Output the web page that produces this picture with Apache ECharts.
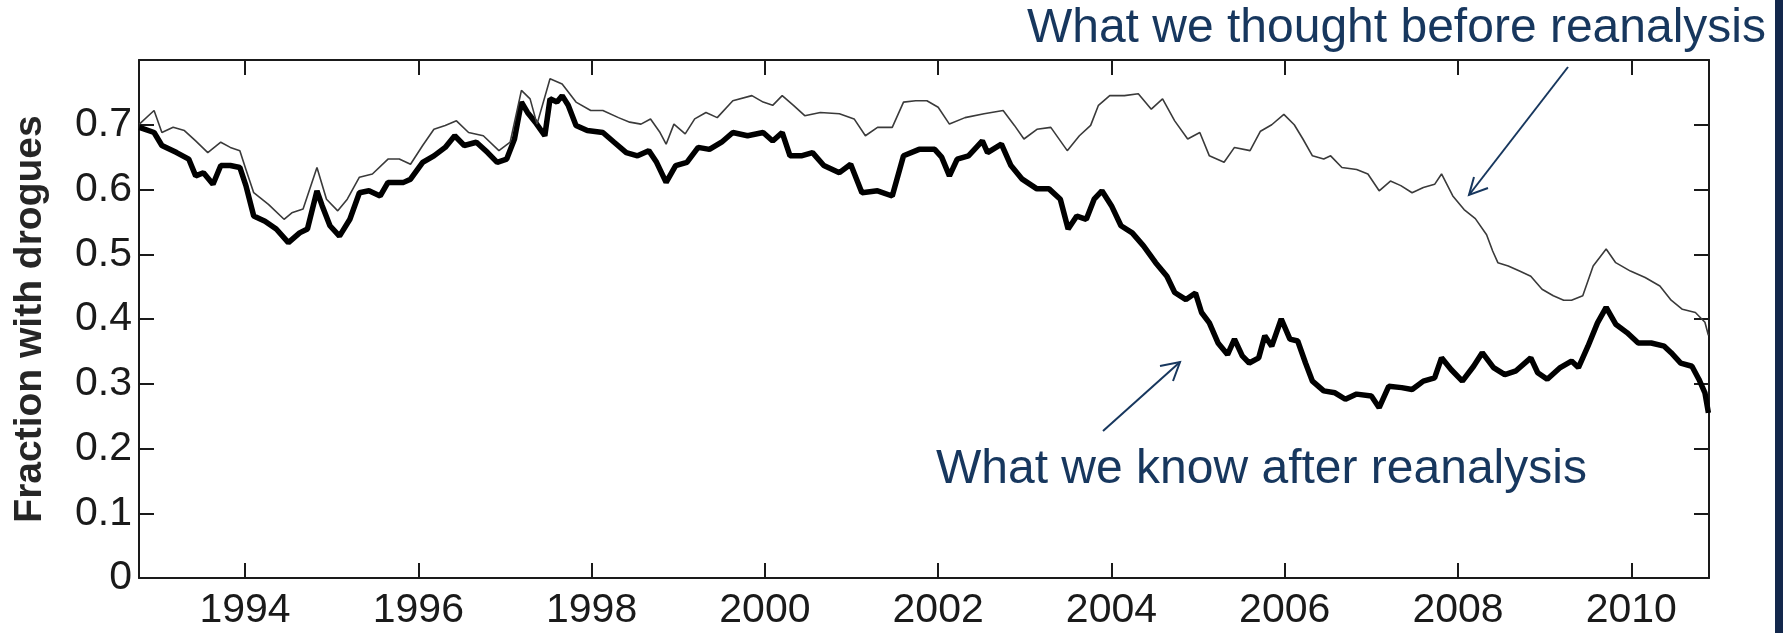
<!DOCTYPE html>
<html>
<head>
<meta charset="utf-8">
<script src="https://cdn.jsdelivr.net/npm/echarts@6/dist/echarts.min.js"></script>
<style>
html,body{margin:0;padding:0;background:#ffffff;}
#chart{width:1783px;height:633px;}
</style>
</head>
<body>
<div id="chart"></div>
<script>
// ---- Data ----
const xTickYears = [1994, 1996, 1998, 2000, 2002, 2004, 2006, 2008, 2010];
const yTickValues = [0, 0.1, 0.2, 0.3, 0.4, 0.5, 0.6, 0.7];
const yAxisTitle = 'Fraction with drogues';
const noteBefore = 'What we thought before reanalysis';
const noteAfter = 'What we know after reanalysis';

// [year, fraction] — bold curve: after reanalysis
const afterReanalysis = [
  [1992.78,0.696],[1992.95,0.688],[1993.04,0.668],[1993.21,0.657],[1993.35,0.647],[1993.43,0.621],
  [1993.52,0.626],[1993.63,0.608],[1993.72,0.637],[1993.83,0.637],[1993.94,0.634],[1994.01,0.606],
  [1994.10,0.559],[1994.23,0.551],[1994.36,0.539],[1994.50,0.518],[1994.63,0.533],[1994.72,0.539],
  [1994.83,0.598],[1994.89,0.575],[1994.98,0.544],[1995.09,0.528],[1995.21,0.554],[1995.32,0.595],
  [1995.43,0.598],[1995.56,0.590],[1995.65,0.611],[1995.83,0.611],[1995.91,0.616],[1996.05,0.642],
  [1996.18,0.652],[1996.31,0.665],[1996.42,0.683],[1996.53,0.668],[1996.67,0.673],[1996.80,0.657],
  [1996.91,0.642],[1997.02,0.647],[1997.11,0.678],[1997.19,0.735],[1997.26,0.719],[1997.35,0.704],
  [1997.46,0.683],[1997.52,0.740],[1997.60,0.735],[1997.66,0.745],[1997.73,0.730],[1997.82,0.699],
  [1997.95,0.691],[1998.13,0.688],[1998.26,0.673],[1998.40,0.657],[1998.53,0.652],[1998.66,0.660],
  [1998.75,0.642],[1998.86,0.611],[1998.97,0.637],[1999.10,0.642],[1999.23,0.665],[1999.36,0.662],
  [1999.50,0.673],[1999.63,0.688],[1999.80,0.683],[1999.98,0.688],[2000.09,0.675],[2000.20,0.688],
  [2000.29,0.652],[2000.42,0.652],[2000.55,0.657],[2000.68,0.637],[2000.86,0.626],[2000.99,0.639],
  [2001.12,0.595],[2001.30,0.598],[2001.47,0.590],[2001.60,0.652],[2001.78,0.662],[2001.96,0.662],
  [2002.04,0.650],[2002.13,0.621],[2002.22,0.647],[2002.35,0.652],[2002.51,0.675],[2002.57,0.657],
  [2002.73,0.670],[2002.84,0.637],[2002.97,0.616],[2003.14,0.601],[2003.28,0.601],[2003.41,0.585],
  [2003.50,0.539],[2003.60,0.559],[2003.71,0.554],[2003.80,0.585],[2003.89,0.598],[2004.00,0.575],
  [2004.11,0.544],[2004.24,0.533],[2004.37,0.513],[2004.51,0.487],[2004.64,0.466],[2004.73,0.441],
  [2004.86,0.430],[2004.97,0.440],[2005.04,0.410],[2005.13,0.394],[2005.23,0.363],[2005.34,0.345],
  [2005.42,0.369],[2005.51,0.343],[2005.59,0.332],[2005.70,0.340],[2005.77,0.374],[2005.85,0.358],
  [2005.96,0.400],[2006.06,0.369],[2006.15,0.366],[2006.24,0.332],[2006.32,0.304],[2006.45,0.289],
  [2006.58,0.286],[2006.70,0.276],[2006.83,0.284],[2007.00,0.281],[2007.09,0.263],[2007.20,0.296],
  [2007.35,0.294],[2007.47,0.291],[2007.60,0.304],[2007.73,0.309],[2007.81,0.340],[2007.92,0.322],
  [2008.05,0.304],[2008.18,0.327],[2008.28,0.348],[2008.41,0.325],[2008.54,0.314],[2008.67,0.320],
  [2008.84,0.340],[2008.92,0.317],[2009.03,0.307],[2009.18,0.325],[2009.31,0.335],[2009.39,0.325],
  [2009.50,0.358],[2009.61,0.394],[2009.71,0.418],[2009.82,0.392],[2009.95,0.379],[2010.08,0.363],
  [2010.23,0.363],[2010.38,0.358],[2010.46,0.348],[2010.57,0.332],[2010.70,0.327],[2010.78,0.307],
  [2010.85,0.286],[2010.89,0.255]
];

// [year, fraction] — thin curve: before reanalysis
const beforeReanalysis = [
  [1992.78,0.701],[1992.95,0.722],[1993.04,0.688],[1993.17,0.696],[1993.30,0.691],[1993.43,0.675],
  [1993.57,0.657],[1993.72,0.673],[1993.83,0.665],[1993.94,0.660],[1994.01,0.631],[1994.10,0.595],
  [1994.27,0.577],[1994.45,0.554],[1994.54,0.564],[1994.67,0.570],[1994.83,0.634],[1994.94,0.585],
  [1995.07,0.567],[1995.18,0.585],[1995.32,0.619],[1995.47,0.624],[1995.65,0.647],[1995.78,0.647],
  [1995.91,0.639],[1996.05,0.668],[1996.18,0.693],[1996.31,0.699],[1996.44,0.706],[1996.58,0.688],
  [1996.75,0.683],[1996.93,0.660],[1997.06,0.673],[1997.19,0.753],[1997.29,0.740],[1997.37,0.701],
  [1997.52,0.771],[1997.66,0.763],[1997.82,0.735],[1997.99,0.722],[1998.13,0.722],[1998.31,0.711],
  [1998.44,0.704],[1998.57,0.701],[1998.68,0.709],[1998.79,0.688],[1998.86,0.670],[1998.95,0.701],
  [1999.08,0.686],[1999.19,0.709],[1999.32,0.719],[1999.45,0.711],[1999.63,0.737],[1999.85,0.745],
  [1999.98,0.735],[2000.09,0.730],[2000.20,0.745],[2000.33,0.730],[2000.46,0.714],[2000.64,0.719],
  [2000.86,0.717],[2001.03,0.709],[2001.16,0.683],[2001.30,0.696],[2001.47,0.696],[2001.60,0.735],
  [2001.74,0.737],[2001.87,0.737],[2002.00,0.727],[2002.13,0.701],[2002.31,0.711],[2002.53,0.717],
  [2002.75,0.722],[2002.88,0.699],[2002.99,0.678],[2003.14,0.693],[2003.30,0.696],[2003.49,0.660],
  [2003.63,0.683],[2003.76,0.699],[2003.85,0.730],[2003.98,0.745],[2004.15,0.745],[2004.31,0.748],
  [2004.46,0.724],[2004.59,0.740],[2004.73,0.706],[2004.88,0.678],[2005.02,0.688],[2005.13,0.652],
  [2005.30,0.642],[2005.42,0.665],[2005.60,0.660],[2005.72,0.690],[2005.85,0.700],[2005.99,0.716],
  [2006.11,0.700],[2006.21,0.678],[2006.32,0.652],[2006.45,0.647],[2006.53,0.652],[2006.66,0.634],
  [2006.83,0.631],[2006.96,0.624],[2007.09,0.598],[2007.22,0.613],[2007.34,0.606],[2007.47,0.595],
  [2007.60,0.603],[2007.73,0.608],[2007.81,0.624],[2007.94,0.590],[2008.07,0.569],[2008.20,0.555],
  [2008.33,0.530],[2008.40,0.505],[2008.46,0.487],[2008.58,0.482],[2008.71,0.474],[2008.84,0.466],
  [2008.97,0.446],[2009.10,0.436],[2009.22,0.429],[2009.31,0.429],[2009.44,0.436],[2009.56,0.482],
  [2009.71,0.508],[2009.82,0.487],[2009.99,0.474],[2010.16,0.464],[2010.33,0.451],[2010.46,0.429],
  [2010.59,0.415],[2010.74,0.410],[2010.85,0.395],[2010.89,0.375]
];

// ---- Chart ----
const FONT = '"Liberation Sans", Arial, Helvetica, sans-serif';
const INK = '#1a1a1a';
const NAVY = '#17375e';
const X_MIN = 1992.776, X_MAX = 2010.897;
const Y_MIN = 0, Y_MAX = 0.8;

const chart = echarts.init(document.getElementById('chart'), null, {renderer: 'canvas'});

function xAxisDef(pos, showLabels) {
  return {
    type: 'value', position: pos, min: X_MIN, max: X_MAX,
    axisLine: {show: true, onZero: false, lineStyle: {color: INK, width: 2}},
    axisTick: {show: true, inside: true, length: 15, customValues: xTickYears,
               lineStyle: {color: INK, width: 2}},
    axisLabel: {show: showLabels, customValues: xTickYears, margin: 12,
                fontSize: 41, fontFamily: FONT, color: INK,
                formatter: v => String(Math.round(v))},
    splitLine: {show: false}
  };
}
function yAxisDef(pos, showLabels) {
  const d = {
    type: 'value', position: pos, min: Y_MIN, max: Y_MAX,
    axisLine: {show: true, onZero: false, lineStyle: {color: INK, width: 2}},
    axisTick: {show: true, inside: true, length: 15, customValues: yTickValues,
               lineStyle: {color: INK, width: 2}},
    axisLabel: {show: showLabels, customValues: yTickValues, margin: 7,
                fontSize: 41, fontFamily: FONT, color: INK,
                formatter: v => (v === 0 ? '0' : (Math.round(v * 10) / 10).toString())},
    splitLine: {show: false}
  };
  if (showLabels) {
    d.name = yAxisTitle;
    d.nameLocation = 'middle';
    d.nameRotate = 90;
    d.nameGap = 89;
    d.nameTextStyle = {fontSize: 39, fontWeight: 'bold', fontFamily: FONT, color: '#262626'};
  }
  return d;
}

const option = {
  animation: false,
  backgroundColor: '#ffffff',
  grid: {left: 139, top: 60, right: 74, bottom: 55, containLabel: false, outerBoundsMode: 'none'},
  xAxis: [xAxisDef('bottom', true), xAxisDef('top', false)],
  yAxis: [yAxisDef('left', true), yAxisDef('right', false)],
  series: [
    {
      name: 'before', type: 'line', xAxisIndex: 0, yAxisIndex: 0,
      data: beforeReanalysis, showSymbol: false, smooth: false,
      lineStyle: {color: '#3a3a3a', width: 1.6}, z: 3
    },
    {
      name: 'after', type: 'line', xAxisIndex: 0, yAxisIndex: 0,
      data: afterReanalysis, showSymbol: false, smooth: false,
      lineStyle: {color: '#000000', width: 5.5}, z: 2
    }
  ],
  graphic: [
    {type: 'rect', z: 100, shape: {x: 1775, y: 0, width: 8, height: 633}, style: {fill: '#13284c'}},
    {type: 'text', z: 100, x: 1766, y: 28.4,
     style: {text: noteBefore, font: '48px ' + FONT, fill: NAVY, align: 'right', verticalAlign: 'middle'}},
    {type: 'text', z: 100, x: 936, y: 469.4,
     style: {text: noteAfter, font: '48px ' + FONT, fill: NAVY, align: 'left', verticalAlign: 'middle'}},
    {type: 'line', z: 100, shape: {x1: 1568, y1: 67, x2: 1469, y2: 195},
     style: {stroke: NAVY, lineWidth: 2}},
    {type: 'polyline', z: 100, shape: {points: [[1474, 177], [1469, 195], [1488, 188]]},
     style: {stroke: NAVY, lineWidth: 2, fill: null}},
    {type: 'line', z: 100, shape: {x1: 1103, y1: 431, x2: 1180, y2: 362},
     style: {stroke: NAVY, lineWidth: 2}},
    {type: 'polyline', z: 100, shape: {points: [[1160, 366], [1180, 362], [1173, 381]]},
     style: {stroke: NAVY, lineWidth: 2, fill: null}}
  ]
};
chart.setOption(option);
</script>
</body>
</html>
